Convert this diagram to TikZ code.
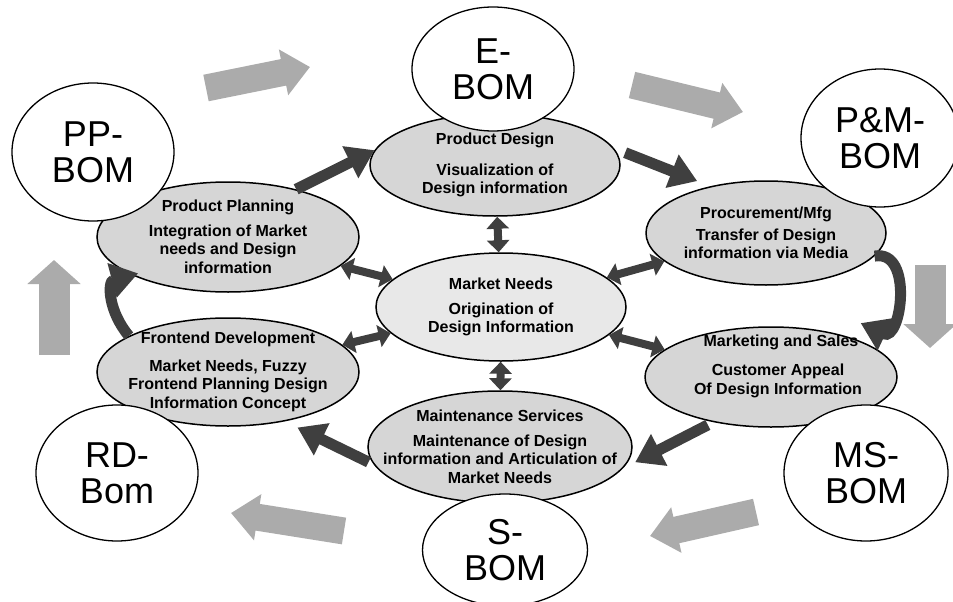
\documentclass[tikz,border=0pt]{standalone}
\usepackage{fontspec}
\setmainfont{Liberation Sans}
\usetikzlibrary{shapes.geometric, arrows.meta}
\definecolor{stagegray}{HTML}{D6D6D6}
\definecolor{coregray}{HTML}{E8E8E8}
\definecolor{flowgray}{HTML}{3F3F3F}
\definecolor{biggray}{HTML}{ABABAB}

\begin{document}
\begin{tikzpicture}[x=1pt,y=-1pt,
    bom/.style={ellipse, draw, line width=1.3pt, fill=white, inner sep=0pt, align=center, font=\fontsize{36}{36}\selectfont},
    stage/.style={ellipse, draw, line width=1.5pt, fill=stagegray, inner xsep=-40pt, inner ysep=-12pt, align=center, font=\bfseries\fontsize{16}{18.5}\selectfont},
    flow/.style={draw=flowgray, line width=11pt, -{Triangle[length=27pt,width=34pt]}},
    link/.style={draw=flowgray, line width=8pt, {Triangle[length=12pt,width=22pt]}-{Triangle[length=12pt,width=22pt]}},
    bigflow/.style={draw=biggray, line width=27pt, -{Triangle[length=27pt,width=45pt]}}]
    \useasboundingbox (0,0) rectangle (953,602);

    \draw[bigflow] (206,88) -- (310,67);
    \draw[bigflow] (632,85) -- (743,112);
    \draw[bigflow, line width=31pt, -{Triangle[length=24pt,width=52pt]}] (930,265) -- (930,348);
    \draw[bigflow] (756,512) -- (650,536);
    \draw[bigflow] (344,531) -- (231,513);
    \draw[bigflow, line width=31pt, -{Triangle[length=24pt,width=52pt]}] (54,355) -- (54,260);

    \node[stage, minimum width=250pt, minimum height=102pt] (pd) at (495,165) {Product Design\\[12pt]Visualization of\\Design information};
    \node[stage, minimum width=262pt, minimum height=110pt] (pp) at (228,237) {Product Planning\\[6pt]Integration of Market\\needs and Design\\information};
    \node[stage, minimum width=240pt, minimum height=104pt] (proc) at (766,233) {Procurement/Mfg\\[3pt]Transfer of Design\\information via Media};
    \node[stage, fill=coregray, minimum width=250pt, minimum height=108pt] (mn) at (501,307) {Market Needs\\[6pt]Origination of\\Design Information};
    \node[stage, minimum width=262pt, minimum height=108pt] (fe) at (228,372) {Frontend Development\hspace{24pt}\\[9pt]Market Needs, Fuzzy\\Frontend Planning Design\\Information Concept};
    \node[stage, minimum width=252pt, minimum height=100pt] (ms) at (771,377) {\hspace{20pt}Marketing and Sales\\[11pt]\hspace{14pt}Customer Appeal\\\hspace{14pt}Of Design Information\\[7pt]\mbox{}};
    \node[stage, minimum width=264pt, minimum height=112pt] (mt) at (500,447) {Maintenance Services\\[6pt]Maintenance of Design\\information and Articulation of\\Market Needs};

    \node[bom, minimum width=162pt, minimum height=124pt] (ebom) at (493,69) {E-\\BOM};
    \node[bom, minimum width=158pt, minimum height=138pt] (pmbom) at (880,138) {P\&M-\\BOM};
    \node[bom, minimum width=162pt, minimum height=138pt] (ppbom) at (93,152) {PP-\\BOM};
    \node[bom, minimum width=162pt, minimum height=136pt] (rdbom) at (117,473) {RD-\\Bom};
    \node[bom, minimum width=164pt, minimum height=136pt] (msbom) at (866,473) {MS-\\BOM};
    \node[bom, minimum width=165pt, minimum height=112pt] (sbom) at (505,550) {S-\\BOM};

    \draw[link] (mn) -- (pd);
    \draw[link] (mn) -- (pp);
    \draw[link] (mn) -- (proc);
    \draw[link] (mn) -- (fe);
    \draw[link] (mn) -- (ms);
    \draw[link] (mn) -- (mt);

    \draw[flow] (pp.35) -- (pd.173);
    \draw[flow, shorten <=12pt, shorten >=14pt] (pd.8) -- (proc.140);
    \draw[flow] (proc.-12) .. controls +(-10:40) and +(25:45) .. ([yshift=18pt]ms.north east);
    \draw[flow, shorten <=6pt, shorten >=14pt] (ms.218) -- (mt.-10);
    \draw[flow, shorten <=6pt, shorten >=14pt] (mt.188) -- (fe.-41);
    \draw[flow] (fe.160) to[out=130, in=195, looseness=1.3] ([xshift=10pt]pp.200);
\end{tikzpicture}
\end{document}
